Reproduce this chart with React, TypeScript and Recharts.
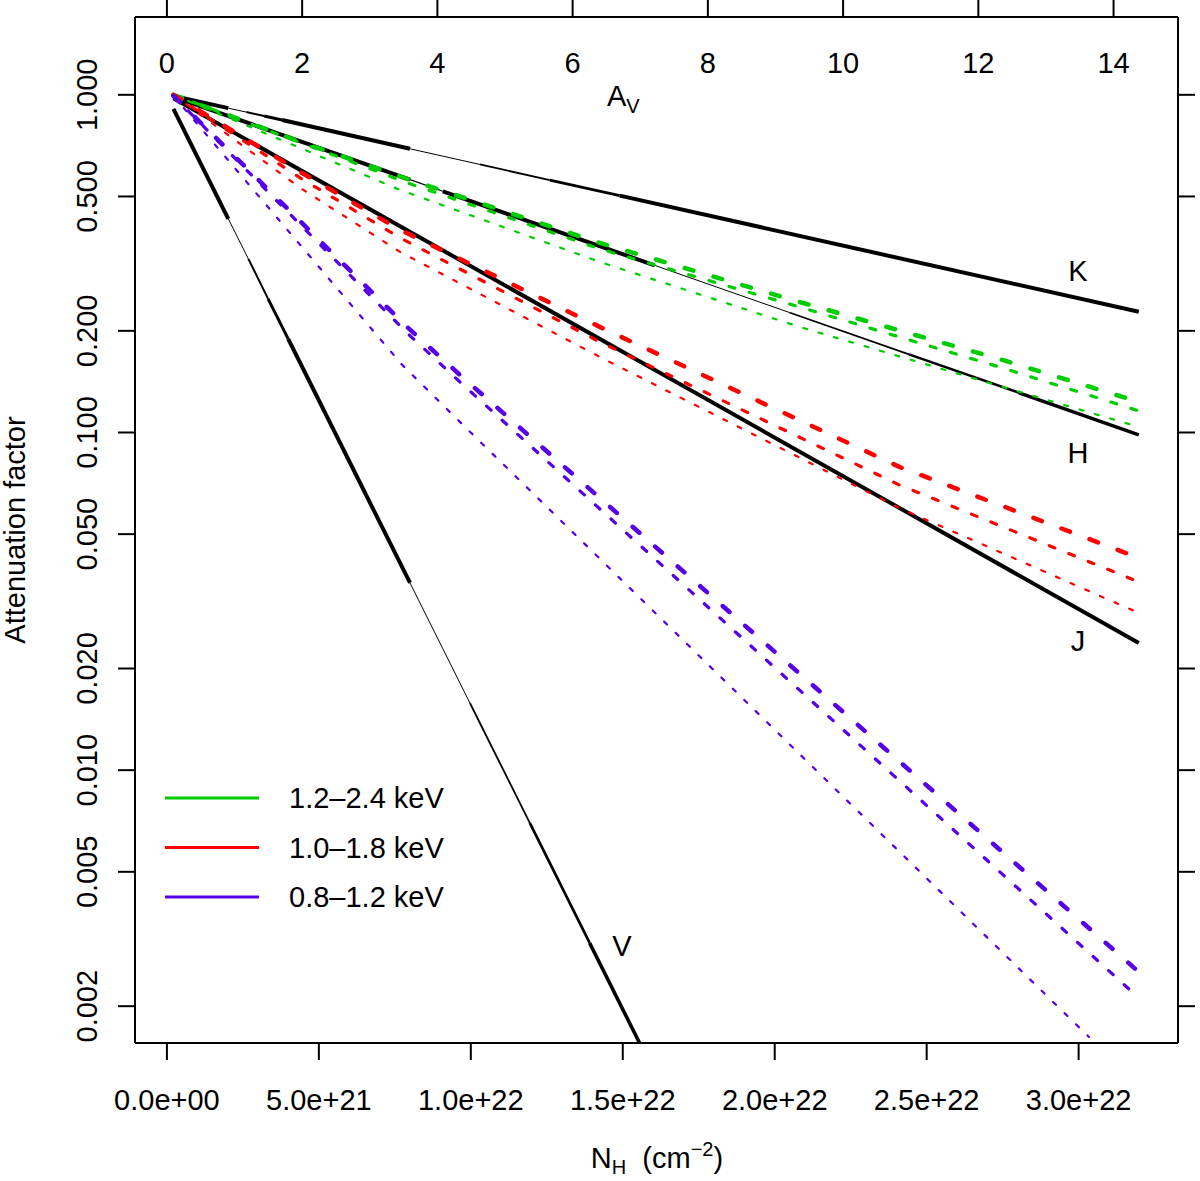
import React from "react";
import { LineChart, Line, XAxis, YAxis } from "recharts";

// axis ticks
const NH_TICKS = [0, 5e21, 1e22, 1.5e22, 2e22, 2.5e22, 3e22];
const ATT_TICKS = [0.002, 0.005, 0.01, 0.02, 0.05, 0.1, 0.2, 0.5, 1];
const AV_TICKS = [0, 2, 4, 6, 8, 10, 12, 14];
const NH_PER_AV = 2.225e21;

// optical / NIR bands: points where the drawn line weight changes
const V_NH = [2.14e20, 2.02e21, 2.68e21, 3.33e21, 3.99e21, 8.0e21, 9.97e21, 1.194e22, 1.391e22, 1.621e22];
const V_ATT = [0.909, 0.4293, 0.3267, 0.2487, 0.1893, 0.03584, 0.01581, 0.006976, 0.003078, 0.001184];
const J_NH = [2.14e20, 3.198e22];
const J_ATT = [0.976, 0.0238];
const H_NH = [2.14e20, 8.0e21, 9.08e21, 1.605e22, 2.048e22, 2.442e22, 2.804e22, 3.198e22];
const H_ATT = [0.9865, 0.5608, 0.518, 0.3126, 0.2267, 0.1703, 0.1311, 0.0984];
const K_NH = [2.14e20, 2.02e21, 2.61e21, 3.2e21, 3.79e21, 8.0e21, 1.03e22, 1.26e22, 1.49e22, 3.198e22];
const K_ATT = [0.993, 0.913, 0.889, 0.865, 0.842, 0.692, 0.622, 0.559, 0.503, 0.2277];

// X-ray bands, three curves each
const HARD_NH_1 = [2.14e20, 4.385e21, 8.0e21, 1.424e22, 2.081e22, 2.738e22, 3.198e22];
const HARD_ATT_1 = [1.0, 0.726, 0.56, 0.3644, 0.2436, 0.1652, 0.1232];
const HARD_NH_2 = [2.14e20, 8.0e21, 1.424e22, 2.081e22, 2.738e22, 3.198e22];
const HARD_ATT_2 = [1.0, 0.545, 0.3498, 0.2355, 0.1564, 0.1159];
const HARD_NH_3 = [2.14e20, 7.67e21, 1.424e22, 2.081e22, 2.672e22, 3.198e22];
const HARD_ATT_3 = [1.0, 0.5232, 0.3201, 0.2055, 0.1431, 0.1039];

const MID_NH_1 = [2.14e20, 4.385e21, 7.67e21, 1.424e22, 2.41e22, 3.198e22];
const MID_ATT_1 = [1.0, 0.5913, 0.3982, 0.2055, 0.0791, 0.04252];
const MID_NH_2 = [2.14e20, 4.385e21, 7.67e21, 1.424e22, 2.41e22, 3.198e22];
const MID_ATT_2 = [1.0, 0.5676, 0.3771, 0.1855, 0.06995, 0.0361];
const MID_NH_3 = [2.14e20, 4.385e21, 7.67e21, 1.424e22, 2.41e22, 3.198e22];
const MID_ATT_3 = [1.0, 0.5303, 0.3427, 0.1675, 0.05978, 0.02921];

const SOFT_NH_1 = [2.14e20, 7.9e21, 9.64e21, 3.198e22];
const SOFT_ATT_1 = [0.9932, 0.2055, 0.1481, 0.002526];
const SOFT_NH_2 = [2.14e20, 7.9e21, 9.64e21, 3.198e22];
const SOFT_ATT_2 = [0.9932, 0.1972, 0.1412, 0.002115];
const SOFT_NH_3 = [2.14e20, 7.74e21, 9.64e21, 3.034e22];
const SOFT_ATT_3 = [0.9932, 0.1586, 0.1075, 0.001621];

const BAND_LABELS = ["1.2\u20132.4 keV", "1.0\u20131.8 keV", "0.8\u20131.2 keV"];
const CURVE_NAMES = ["K", "H", "J", "V"];

const BAND_COLORS = ["#00cd00", "#ff0000", "#5500e6"];
const FONT = "Liberation Sans, Arial, Helvetica, sans-serif";
const X_DOMAIN = [-1.05e21, 3.327e22];
const Y_DOMAIN = [0.001556, 1.7];
const AXIS = { stroke: "#000", strokeWidth: 2 };

const rows = (nh: number[], att: number[]) => nh.map((x, i) => ({ nh: x, att: att[i] }));
const pieces = (nh: number[], att: number[]) =>
  nh.slice(1).map((_, i) => rows(nh.slice(i, i + 2), att.slice(i, i + 2)));

// line weights per piece, as drawn in the figure
const BLACK = [
  { nh: V_NH, att: V_ATT, widths: [4, 1, 2, 3, 4, 1, 1.8, 2.7, 3.6] },
  { nh: J_NH, att: J_ATT, widths: [4] },
  { nh: H_NH, att: H_ATT, widths: [4, 1.2, 4, 1, 1.7, 2.5, 3.4] },
  { nh: K_NH, att: K_ATT, widths: [4, 1, 2, 3, 4, 1, 1.8, 2.7, 4] },
];

const STYLES = [
  { width: 4.5, dash: "9 21" },
  { width: 3.2, dash: "6 15" },
  { width: 2.2, dash: "4 12" },
];

const XRAY = [
  [rows(HARD_NH_1, HARD_ATT_1), rows(HARD_NH_2, HARD_ATT_2), rows(HARD_NH_3, HARD_ATT_3)],
  [rows(MID_NH_1, MID_ATT_1), rows(MID_NH_2, MID_ATT_2), rows(MID_NH_3, MID_ATT_3)],
  [rows(SOFT_NH_1, SOFT_ATT_1), rows(SOFT_NH_2, SOFT_ATT_2), rows(SOFT_NH_3, SOFT_ATT_3)],
];

const fmtNH = (v: number) => {
  const [m, e] = v.toExponential(1).split("e");
  const n = Math.abs(parseInt(e, 10));
  return `${m}e${e[0] === "-" ? "-" : "+"}${n < 10 ? "0" + n : n}`;
};

const BottomTick = ({ x, y, payload }: any) => (
  <text x={x} y={y} textAnchor="middle" fontSize={29} fontFamily={FONT} fill="#000">
    {fmtNH(payload.value)}
  </text>
);

const TopTick = ({ x, y, payload }: any) => (
  <text x={x} y={y} textAnchor="middle" fontSize={29} fontFamily={FONT} fill="#000">
    {Math.round(payload.value / NH_PER_AV)}
  </text>
);

const LeftTick = ({ x, y, payload }: any) => (
  <text
    x={x}
    y={y}
    transform={`rotate(-90, ${x}, ${y})`}
    textAnchor="middle"
    fontSize={29}
    fontFamily={FONT}
    fill="#000"
  >
    {payload.value.toFixed(3)}
  </text>
);

const NoTick = () => <g />;

// curve labels, pixel spots in the plot
const CURVE_LABEL_POS = [
  [1078, 281],
  [1078, 463],
  [1078, 651],
  [622, 956],
];

export default function App() {
  const blackLines = BLACK.flatMap((c, ci) =>
    pieces(c.nh, c.att).map((seg, i) => (
      <Line
        key={`b${ci}-${i}`}
        data={seg}
        dataKey="att"
        xAxisId="b"
        yAxisId="l"
        type="linear"
        stroke="#000"
        strokeWidth={c.widths[i]}
        dot={false}
        activeDot={false}
        legendType="none"
        isAnimationActive={false}
      />
    ))
  );

  const xrayLines = XRAY.flatMap((band, bi) =>
    band.map((data, si) => (
      <Line
        key={`x${bi}-${si}`}
        data={data}
        dataKey="att"
        xAxisId="b"
        yAxisId="l"
        type="linear"
        stroke={BAND_COLORS[bi]}
        strokeWidth={STYLES[si].width}
        strokeDasharray={STYLES[si].dash}
        strokeLinecap="round"
        dot={false}
        activeDot={false}
        legendType="none"
        isAnimationActive={false}
      />
    ))
  );

  return (
    <div style={{ position: "absolute", left: 0, top: 0, width: 1200, height: 1181, background: "#fff" }}>
      <LineChart width={1200} height={1181} margin={{ top: 0, right: 0, bottom: 0, left: 0 }}>
        <XAxis
          xAxisId="b"
          dataKey="nh"
          type="number"
          domain={X_DOMAIN}
          allowDataOverflow
          ticks={NH_TICKS}
          interval={0}
          height={138}
          tickSize={17}
          tickMargin={50}
          axisLine={AXIS}
          tickLine={AXIS}
          tick={(p: any) => <BottomTick {...p} />}
        />
        <XAxis
          xAxisId="t"
          orientation="top"
          dataKey="nh"
          type="number"
          domain={X_DOMAIN}
          allowDataOverflow
          ticks={AV_TICKS.map((a) => a * NH_PER_AV)}
          interval={0}
          height={17}
          tickSize={17}
          tickMargin={-73}
          axisLine={AXIS}
          tickLine={AXIS}
          tick={(p: any) => <TopTick {...p} />}
        />
        <YAxis
          yAxisId="l"
          type="number"
          scale="log"
          domain={Y_DOMAIN}
          allowDataOverflow
          ticks={ATT_TICKS}
          interval={0}
          width={135}
          tickSize={17}
          tickMargin={21}
          axisLine={AXIS}
          tickLine={AXIS}
          tick={(p: any) => <LeftTick {...p} />}
        />
        <YAxis
          yAxisId="r"
          orientation="right"
          type="number"
          scale="log"
          domain={Y_DOMAIN}
          allowDataOverflow
          ticks={ATT_TICKS}
          interval={0}
          width={22}
          tickSize={17}
          axisLine={AXIS}
          tickLine={AXIS}
          tick={NoTick}
        />
        {blackLines}
        {xrayLines}
      </LineChart>

      <svg
        width={1200}
        height={1181}
        style={{ position: "absolute", left: 0, top: 0, pointerEvents: "none" }}
        fontFamily={FONT}
        fill="#000"
      >
        <text x={607} y={106} fontSize={29}>
          A<tspan fontSize={20} dy={7}>V</tspan>
        </text>
        <text x={657} y={1168} fontSize={29} textAnchor="middle">
          N<tspan fontSize={20} dy={6}>H</tspan>
          <tspan dy={-6}>{"\u00a0\u00a0(cm"}</tspan>
          <tspan fontSize={20} dy={-12}>{"\u22122"}</tspan>
          <tspan dy={12}>)</tspan>
        </text>
        <text x={25} y={530} fontSize={29} textAnchor="middle" transform="rotate(-90, 25, 530)">
          Attenuation factor
        </text>
        {CURVE_NAMES.map((n, i) => (
          <text key={n} x={CURVE_LABEL_POS[i][0]} y={CURVE_LABEL_POS[i][1]} fontSize={29} textAnchor="middle">
            {n}
          </text>
        ))}
        {BAND_LABELS.map((lab, i) => (
          <g key={lab}>
            <line x1={165} x2={259} y1={798 + i * 49.5} y2={798 + i * 49.5} stroke={BAND_COLORS[i]} strokeWidth={3} />
            <text x={289} y={808 + i * 49.5} fontSize={29}>
              {lab}
            </text>
          </g>
        ))}
      </svg>
    </div>
  );
}
